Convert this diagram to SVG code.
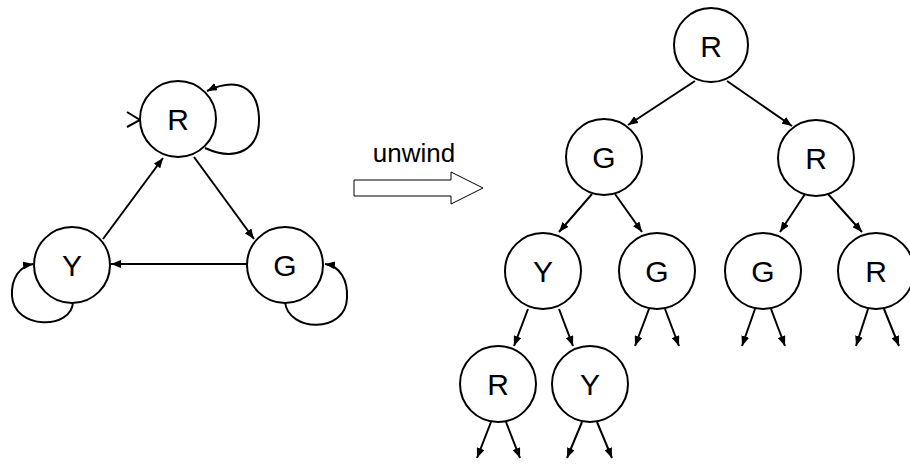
<svg xmlns="http://www.w3.org/2000/svg" width="910" height="464" viewBox="0 0 910 464">
  <style>
    .node circle { fill: #fff; stroke: #000; stroke-width: 2; }
    .node text { font-family: "Liberation Sans", Arial, sans-serif; font-size: 30px; fill: #000; text-anchor: middle; dominant-baseline: central; }
    .edge { fill: none; stroke: #000; stroke-width: 2; marker-end: url(#arrow); }
    .label { font-family: "Liberation Sans", Arial, sans-serif; font-size: 26px; fill: #000; text-anchor: middle; }
  </style>
  <defs>
    <marker id="arrow" viewBox="0 0 10 8" refX="10" refY="4" markerWidth="10" markerHeight="8" markerUnits="userSpaceOnUse" orient="auto">
      <path d="M0,0 L10,4 L0,8 Z" fill="#000"/>
    </marker>
  </defs>
  <rect width="910" height="464" fill="#fff"/>

  <!-- automaton -->
  <g id="connectors-automaton">
    <path class="edge" d="M103,239 L163,158"/>
    <path class="edge" d="M194,157 L254,239"/>
    <path class="edge" d="M247,264 L111,264"/>
    <path class="edge" d="M205,148 C236,162 260,150 259,118 C258,88 238,76 207,91"/>
    <path class="edge" d="M73,302 C72,330 14,330 12,296 C11,278 20,266 33,264"/>
    <path class="edge" d="M285,302 C288,332 346,334 347,298 C348,280 340,266 325,264"/>
    <path d="M127,112 L140,120 L127,127" fill="none" stroke="#000" stroke-width="2"/>
  </g>
  <g id="a-R" class="node"><circle cx="178" cy="119" r="38"/><text x="178" y="119">R</text></g>
  <g id="a-Y" class="node"><circle cx="72" cy="265" r="38"/><text x="72" y="265">Y</text></g>
  <g id="a-G" class="node"><circle cx="285" cy="265" r="38"/><text x="285" y="265">G</text></g>

  <!-- unwind -->
  <g id="unwind">
    <text class="label" x="414" y="162">unwind</text>
    <path d="M354,180 L451,180 L451,172 L483,188 L451,204 L451,196 L354,196 Z" fill="#fff" stroke="#000" stroke-width="1"/>
  </g>

  <!-- unwound tree -->
  <g id="connectors-tree">
    <path class="edge" d="M695,81 L628,125"/>
    <path class="edge" d="M727,81 L792,126"/>
    <path class="edge" d="M592,194 L559,232"/>
    <path class="edge" d="M615,194 L642,232"/>
    <path class="edge" d="M805,194 L780,232"/>
    <path class="edge" d="M828,194 L862,232"/>
    <path class="edge" d="M528,309 L514,346"/>
    <path class="edge" d="M559,309 L573,346"/>
    <path class="edge" d="M649,309 L635,346"/>
    <path class="edge" d="M665,309 L679,346"/>
    <path class="edge" d="M755,309 L742,346"/>
    <path class="edge" d="M771,309 L785,346"/>
    <path class="edge" d="M868,309 L856,346"/>
    <path class="edge" d="M884,309 L899,346"/>
    <path class="edge" d="M491,422 L477,458"/>
    <path class="edge" d="M506,422 L520,458"/>
    <path class="edge" d="M582,422 L567,458"/>
    <path class="edge" d="M597,422 L612,458"/>
  </g>
  <g id="t-R" class="node"><circle cx="711" cy="45" r="37"/><text x="711" y="46">R</text></g>
  <g id="t-G" class="node"><circle cx="604" cy="157" r="38"/><text x="604" y="157">G</text></g>
  <g id="t-R2" class="node"><circle cx="816" cy="158" r="38"/><text x="816" y="158">R</text></g>
  <g id="t-Y" class="node"><circle cx="543" cy="271" r="38"/><text x="543" y="271">Y</text></g>
  <g id="t-G2" class="node"><circle cx="657" cy="271" r="38"/><text x="657" y="271">G</text></g>
  <g id="t-G3" class="node"><circle cx="763" cy="271" r="38"/><text x="763" y="271">G</text></g>
  <g id="t-R3" class="node"><circle cx="876" cy="271" r="38"/><text x="876" y="271">R</text></g>
  <g id="t-R4" class="node"><circle cx="498" cy="384" r="38"/><text x="498" y="384">R</text></g>
  <g id="t-Y4" class="node"><circle cx="590" cy="384" r="38"/><text x="590" y="384">Y</text></g>
</svg>
